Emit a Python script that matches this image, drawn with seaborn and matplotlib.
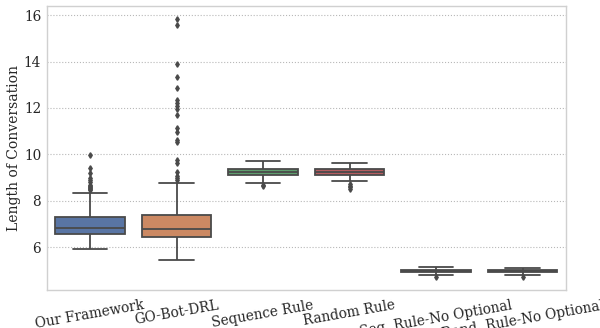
import numpy as np
import pandas as pd
import matplotlib
matplotlib.use("Agg")
import matplotlib.pyplot as plt
import seaborn as sns

categories = ["Our Framework", "GO-Bot-DRL", "Sequence Rule", "Random Rule",
              "Seq. Rule-No Optional", "Rand. Rule-No Optional"]

# five-number summaries: [whisker low, q1, median, q3, whisker high]
ours_stats = [5.93, 6.56, 6.83, 7.29, 8.32]
gobot_stats = [5.47, 6.46, 6.77, 7.41, 8.79]
seq_stats = [8.79, 9.11, 9.24, 9.36, 9.72]
rand_stats = [8.85, 9.12, 9.25, 9.38, 9.65]
seq_noopt_stats = [4.80, 4.93, 4.98, 5.03, 5.14]
rand_noopt_stats = [4.81, 4.94, 4.99, 5.03, 5.13]

# outliers
ours_out = [8.45, 8.5, 8.55, 8.6, 8.65, 8.7, 8.8, 8.9, 9.0, 9.2, 9.43, 9.96]
gobot_out = [8.9, 8.98, 9.05, 9.23, 9.62, 9.76, 10.54, 10.64, 10.97, 11.12,
             11.71, 11.97, 12.1, 12.2, 12.35, 12.84, 13.32, 13.9, 15.56, 15.84]
seq_out = [8.7, 8.65]
rand_out = [8.72, 8.65, 8.58, 8.52]
seq_noopt_out = [4.72]
rand_noopt_out = [4.74]

all_stats = [ours_stats, gobot_stats, seq_stats, rand_stats, seq_noopt_stats, rand_noopt_stats]
all_out = [ours_out, gobot_out, seq_out, rand_out, seq_noopt_out, rand_noopt_out]

# expand each summary into a sample that reproduces it
weights = [1, 50, 50, 50, 1]
rows = []
for cat, st, out in zip(categories, all_stats, all_out):
    vals = list(np.repeat(st, weights)) + list(out)
    rows += [(cat, v) for v in vals]
df = pd.DataFrame(rows, columns=["method", "length"])

sns.set_theme(style="whitegrid", font="serif",
              rc={"grid.linestyle": ":", "grid.linewidth": 0.8, "grid.color": "#b8b8b8",
                  "axes.edgecolor": "#d0d0d0", "axes.linewidth": 1.0})
plt.rcParams["font.family"] = ["DejaVu Serif"]

fig, ax = plt.subplots(figsize=(6, 3.28), dpi=100)
fig.subplots_adjust(left=0.078, right=0.943, top=0.982, bottom=0.116)

sns.boxplot(data=df, x="method", y="length", hue="method", order=categories,
            palette="deep", saturation=0.75, width=0.8, linewidth=1.3,
            linecolor="#4a4a4a", fliersize=2.8,
            flierprops=dict(marker="d", markerfacecolor="#4a4a4a", markeredgecolor="#4a4a4a"),
            ax=ax, legend=False)

ax.set_xlabel("")
ax.set_ylabel("Length of Conversation", fontsize=10, labelpad=2)
ax.set_yticks([6, 8, 10, 12, 14, 16])
ax.tick_params(axis="both", labelsize=9.8, length=0)
ax.tick_params(axis="y", pad=4)
ax.tick_params(axis="x", pad=6)
for lab in ax.get_xticklabels():
    lab.set_rotation(10)
    lab.set_ha("center")

fig.savefig("out.png", dpi=100)
